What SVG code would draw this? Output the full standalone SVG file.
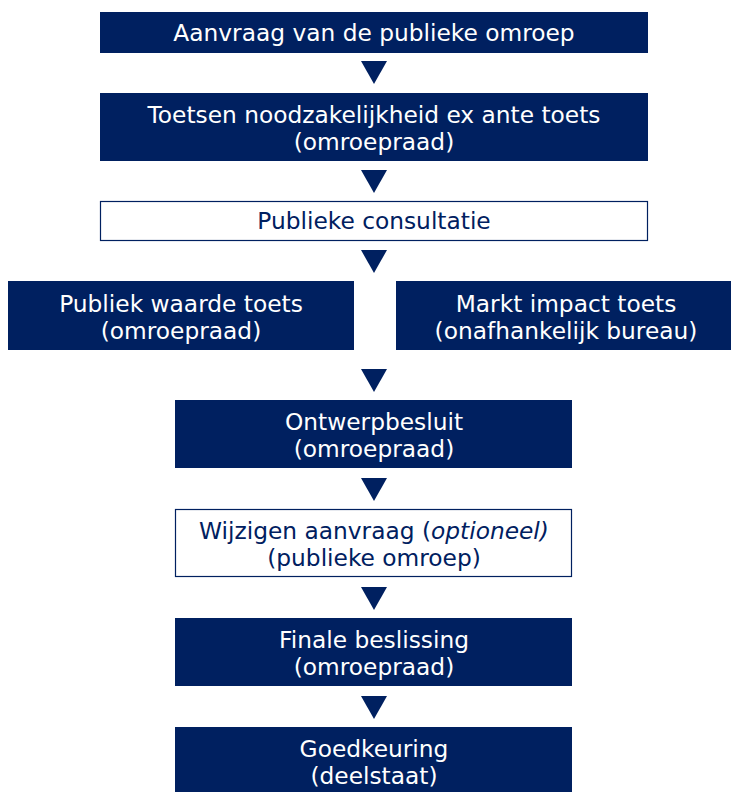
<svg xmlns="http://www.w3.org/2000/svg" width="731" height="792" viewBox="0 0 731 792">
<defs>
<style>
.d{fill:#002060}
.w{fill:#fff;stroke:#002060;stroke-width:1.2}
text{font-family:"DejaVu Sans",Verdana,sans-serif;font-size:23.3px;text-anchor:middle}
.dt{fill:#fff}
.wt{fill:#002060}
.ar{fill:#002060}
</style>
</defs>
<rect width="731" height="792" fill="#fff"/>
<g id="n1"><rect class="d" x="100" y="12" width="548" height="41"/><text class="dt" x="374" y="41">Aanvraag van de publieke omroep</text></g>
<g id="n2"><rect class="d" x="100" y="93" width="548" height="68"/><text class="dt" x="374" y="123">Toetsen noodzakelijkheid ex ante toets</text><text class="dt" x="374" y="150">(omroepraad)</text></g>
<g id="n3"><rect class="w" x="100.5" y="201.5" width="547" height="39"/><text class="wt" x="374" y="229">Publieke consultatie</text></g>
<g id="n4a"><rect class="d" x="8" y="281" width="346" height="69"/><text class="dt" x="181" y="312">Publiek waarde toets</text><text class="dt" x="181" y="339">(omroepraad)</text></g>
<g id="n4b"><rect class="d" x="396" y="281" width="335" height="69"/><text class="dt" x="566" y="312">Markt impact toets</text><text class="dt" x="566" y="339">(onafhankelijk bureau)</text></g>
<g id="n5"><rect class="d" x="175" y="400" width="397" height="68"/><text class="dt" x="374" y="430">Ontwerpbesluit</text><text class="dt" x="374" y="457">(omroepraad)</text></g>
<g id="n6"><rect class="w" x="175.5" y="509.5" width="396" height="67"/><text class="wt" x="374" y="539">Wijzigen aanvraag (<tspan font-style="italic">optioneel)</tspan></text><text class="wt" x="374" y="566">(publieke omroep)</text></g>
<g id="n7"><rect class="d" x="175" y="618" width="397" height="68"/><text class="dt" x="374" y="648">Finale beslissing</text><text class="dt" x="374" y="675">(omroepraad)</text></g>
<g id="n8"><rect class="d" x="175" y="727" width="397" height="65"/><text class="dt" x="374" y="757">Goedkeuring</text><text class="dt" x="374" y="784">(deelstaat)</text></g>
<g id="connectors">
<polygon class="ar" points="361,61 387,61 374,84"/>
<polygon class="ar" points="361,170 387,170 374,193"/>
<polygon class="ar" points="361,250 387,250 374,273"/>
<polygon class="ar" points="361,369 387,369 374,392"/>
<polygon class="ar" points="361,478 387,478 374,501"/>
<polygon class="ar" points="361,587 387,587 374,610"/>
<polygon class="ar" points="361,696 387,696 374,719"/>
</g>
</svg>
